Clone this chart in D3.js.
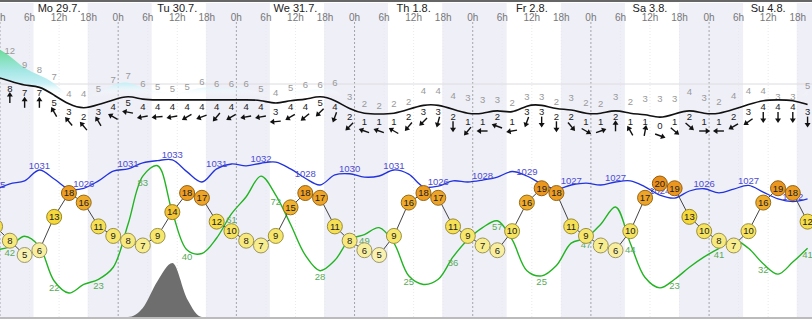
<!DOCTYPE html>
<html><head><meta charset="utf-8">
<script src="https://cdn.jsdelivr.net/npm/d3@7"></script>
<style>body{margin:0;background:#fff;}svg{display:block;font-family:"Liberation Sans",Arial,sans-serif;}</style>
</head><body><svg id="c" width="812" height="322"></svg>
<script>
// ---- data ----
const days = ["Mo 29.7.","Tu 30.7.","We 31.7.","Th 1.8.","Fr 2.8.","Sa 3.8.","Su 4.8."];
const hourLabels = ["0h","6h","12h","18h"];
const sunriseH = [6.8,6.8,6.8,6.8,6.9,6.9,6.9];
const sunsetH  = [17.8,17.8,17.8,17.8,17.9,17.9,17.8];
// hours since Mo 29.7. 0h (3-hourly)
const hours = [-1,2,5,8,11,14,17,20,23,26,29,32,35,38,41,44,47,50,53,56,59,62,65,68,71,74,77,80,83,86,89,92,95,98,101,104,107,110,113,116,119,122,125,128,131,134,137,140,143,146,149,152,155,158,161,164];
const temperature = [11,8,5,6,13,18,16,11,9,8,7,9,14,18,17,12,10,8,7,9,15,18,17,11,8,6,5,9,16,18,17,11,9,7,6,10,16,19,18,11,9,7,6,10,17,20,19,13,10,8,7,10,16,19,18,12];
const pressure = [1025.3,1026.9,1027.7,1030.6,1028.2,1025.5,1025.7,1027.7,1030.3,1030.9,1032.5,1033.1,1033.3,1030.1,1027.4,1030.9,1032.2,1031.7,1032.4,1032.7,1030.9,1028.4,1026.6,1029.3,1029.6,1028.7,1029.0,1030.6,1029.5,1026.1,1026.3,1027.7,1027.4,1027.9,1028.7,1030.2,1029.0,1026.9,1025.5,1026.6,1027.1,1026.6,1027.4,1027.7,1026.1,1023.9,1023.1,1025.0,1025.6,1024.5,1025.5,1026.5,1024.7,1022.9,1022.2,1022.9];
const humidity = [40,42,48,42,22,15,20,23,30,55,83,89,62,40,38,47,61,71,83,72,55,37,28,34,46,49,53,44,25,20,23,36,46,53,57,46,28,25,31,44,47,55,65,44,24,18,23,30,36,41,46,41,32,26,33,41];
const precipitation = [0,0,0,0,0,0,0,0,0,0,0.3,1.2,1.8,0.6,0,0,0,0,0,0,0,0,0,0,0,0,0,0,0,0,0,0,0,0,0,0,0,0,0,0,0,0,0,0,0,0,0,0,0,0,0,0,0,0,0,0];
const windSpeed = [9,8,7,7,5,3,2,3,4,5,4,4,4,4,4,4,4,4,4,3,4,4,5,4,2,1,1,1,2,3,3,2,1,1,2,1,3,3,2,2,1,1,2,1,1,0,1,2,1,1,2,3,4,4,4,3];
const windGust = [13.5,12.0,9.4,8.3,7.0,4.0,4.0,4.8,6.6,7.2,5.7,5.3,4.8,5.2,6.1,5.8,5.8,5.8,4.9,4.1,5.1,5.6,5.6,5.9,3.3,2.1,1.6,2.1,2.4,4.4,4.4,3.6,3.1,2.7,2.7,2.3,3.3,3.3,2.4,3.1,2.3,2.1,3.3,2.4,2.9,2.9,2.9,4.2,3.1,2.4,3.6,4.4,4.4,3.3,3.3,5.4];
// direction wind comes from (deg)
const windDir = [180,180,180,180,150,140,140,150,120,100,80,85,80,60,70,40,60,80,80,85,60,50,45,20,45,110,110,120,40,45,15,0,40,90,110,80,20,0,0,320,300,250,180,150,190,290,310,310,270,90,60,55,0,0,0,0];

// ---- scales ----
const W = 812, topY = 3, bottomY = 317;
const x = d3.scaleLinear().domain([0, 164.9]).range([0, W]);
const yT = d3.scaleLinear().domain([5, 20]).range([255, 183.5]);
const yP = d3.scaleLinear().domain([1022, 1033]).range([161 + 11*3.75, 161]);
const yH = d3.scaleLinear().domain([22, 83]).range([281, 281 - 61*1.72]);
const yR = d3.scaleLinear().domain([0, 2]).range([bottomY, bottomY - 60]);
const yW = d3.scaleLinear().domain([0, 8]).range([118.7, 118.7 - 8*4.7]);
const yGt = d3.scaleLinear().domain([4, 12]).range([93, 93 - 8*5.35]); // gust label centre
const tempColor = d3.scaleLinear().domain([5, 9, 13, 15, 20]).range(["#f8f1b0","#f6e66c","#f4d83c","#f1b22e","#e98f1a"]);

const svg = d3.select("#c");
const defs = svg.append("defs");
defs.append("clipPath").attr("id","cl").append("rect").attr("x",0).attr("y",0).attr("width",W).attr("height",bottomY);

// night bands
const nights = [{a:-6, b:sunriseH[0]}];
days.forEach((d,i)=>{ nights.push({a: i*24 + sunsetH[i], b: (i+1)*24 + (sunriseH[i+1]!==undefined?sunriseH[i+1]:sunriseH[i])}); });
svg.append("g").selectAll("rect").data(nights).join("rect")
  .attr("x", d=>x(d.a)).attr("width", d=>x(d.b)-x(d.a)).attr("y", topY).attr("height", bottomY-topY)
  .attr("fill", "#efeff7");

// top border
svg.append("rect").attr("x",0).attr("y",0).attr("width",W).attr("height",2).attr("fill","#666");

// vertical grid
const sixH = d3.range(0, 165, 6);
svg.append("g").selectAll("line").data(sixH).join("line")
  .attr("x1", d=>x(d)).attr("x2", d=>x(d)).attr("y1", 22).attr("y2", bottomY)
  .attr("stroke", d=> d%24===0 ? "#a4a4ac" : "#e9e9ee").attr("stroke-width",1)
  .attr("stroke-dasharray", d=> d%24===0 ? "2,2" : "1,2");

// header
svg.append("g").selectAll("text").data(days).join("text")
  .attr("x",(d,i)=>x(i*24+12)).attr("y",12).attr("text-anchor","middle")
  .attr("font-size",11).attr("fill","#222").text(d=>d);
svg.append("g").selectAll("text").data(sixH).join("text")
  .attr("x", d=>x(d)).attr("y", 21).attr("text-anchor","middle")
  .attr("font-size",10).attr("fill","#777").text(d=>hourLabels[(d%24)/6]);

// reference line in wind panel
svg.append("line").attr("x1",0).attr("x2",W).attr("y1",84).attr("y2",84).attr("stroke","#dcdce0");

const g = svg.append("g").attr("clip-path","url(#cl)");

// gust fill
const grad = defs.append("linearGradient").attr("id","gg").attr("gradientUnits","userSpaceOnUse")
  .attr("x1",0).attr("x2",0).attr("y1",40).attr("y2",96);
[[0,"#45d47e",1],[0.25,"#78deaa",1],[0.55,"#a4e7e4",1],[0.78,"#c9f0f6",1],[0.88,"#e6f8fb",0.6],[1,"#ffffff",0]]
  .forEach(s=>grad.append("stop").attr("offset",s[0]).attr("stop-color",s[1]).attr("stop-opacity",s[2]));
const idx = d3.range(hours.length);
g.append("path").datum(idx)
  .attr("d", d3.area().x(i=>x(hours[i])).y0(i=>yW(windSpeed[i])).y1(i=>yGt(windGust[i])+5).curve(d3.curveBasis))
  .attr("fill","url(#gg)");
// gust labels
g.append("g").selectAll("text").data(idx).join("text")
  .attr("x", i=>x(hours[i])).attr("y", i=>yGt(windGust[i])+3.5).attr("text-anchor","middle")
  .attr("font-size",9.5).attr("fill","#999").text(i=>Math.round(windGust[i]));
// wind line
g.append("path").datum(idx)
  .attr("d", d3.line().x(i=>x(hours[i])).y(i=>yW(windSpeed[i])).curve(d3.curveBasis))
  .attr("fill","none").attr("stroke","#111").attr("stroke-width",1.6);
// wind labels
g.append("g").selectAll("text").data(idx).join("text")
  .attr("x", i=>x(hours[i])).attr("y", i=>yW(windSpeed[i])+10.5).attr("text-anchor","middle")
  .attr("font-size",9.5).attr("fill","#222").text(i=>windSpeed[i]);
// arrows
const arr = g.append("g").selectAll("g").data(idx).join("g")
  .attr("transform", i=>`translate(${x(hours[i])},${yW(windSpeed[i])+17}) rotate(${windDir[i]+180})`);
arr.append("line").attr("x1",0).attr("x2",0).attr("y1",5).attr("y2",-3).attr("stroke","#111").attr("stroke-width",1.4);
arr.append("path").attr("d","M0,-6 L-3,-1.5 L3,-1.5 Z").attr("fill","#111");

// precipitation
g.append("path").datum(idx)
  .attr("d", d3.area().x(i=>x(hours[i])).y0(bottomY).y1(i=>yR(precipitation[i])).curve(d3.curveMonotoneX))
  .attr("fill","#6e6e6e");

// pressure
g.append("path").datum(idx)
  .attr("d", d3.line().x(i=>x(hours[i])).y(i=>yP(pressure[i])).curve(d3.curveCatmullRom))
  .attr("fill","none").attr("stroke","#2233dd").attr("stroke-width",1.3);
g.append("g").selectAll("text").data(idx.filter(i=>i%3===0)).join("text")
  .attr("x", i=>x(hours[i])).attr("y", i=>yP(pressure[i])-1.5).attr("text-anchor","middle")
  .attr("font-size",9.5).attr("fill","#4c4cd4").text(i=>Math.round(pressure[i]));

// humidity
g.append("path").datum(idx)
  .attr("d", d3.line().x(i=>x(hours[i])).y(i=>yH(humidity[i])).curve(d3.curveCatmullRom))
  .attr("fill","none").attr("stroke","#22b422").attr("stroke-width",1.4);
g.append("g").selectAll("text").data(idx.filter(i=>i%3===1)).join("text")
  .attr("x", i=>x(hours[i])).attr("y", i=>yH(humidity[i])+9.5).attr("text-anchor","middle")
  .attr("font-size",9.5).attr("fill","#5aaa5a").text(i=>humidity[i]);

// temperature
g.append("path").datum(idx)
  .attr("d", d3.line().x(i=>x(hours[i])).y(i=>yT(temperature[i])))
  .attr("fill","none").attr("stroke","#444").attr("stroke-width",1);
const tc = g.append("g").selectAll("g").data(idx).join("g")
  .attr("transform", i=>`translate(${x(hours[i])},${yT(temperature[i])})`);
tc.append("circle").attr("r",7.5).attr("fill", i=>tempColor(temperature[i]))
  .attr("stroke", i=>d3.color(tempColor(temperature[i])).darker(1.3)).attr("stroke-width",1);
tc.append("text").attr("y",3.3).attr("text-anchor","middle").attr("font-size",9.5).attr("fill","#222").text(i=>temperature[i]);

// bottom line
svg.append("rect").attr("x",0).attr("y",bottomY).attr("width",W).attr("height",2).attr("fill","#bbb");
</script></body></html>
